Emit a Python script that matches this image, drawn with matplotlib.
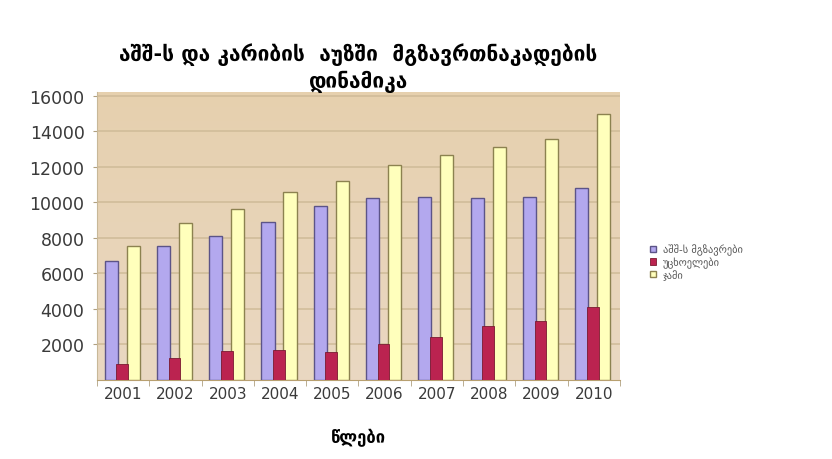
import matplotlib
matplotlib.use("Agg")
import matplotlib.pyplot as plt
import numpy as np

years = ["2001", "2002", "2003", "2004", "2005", "2006", "2007", "2008", "2009", "2010"]
usa = [6700, 7550, 8100, 8900, 9800, 10200, 10300, 10200, 10300, 10800]
foreign = [880, 1200, 1600, 1650, 1550, 2000, 2400, 3000, 3300, 4100]
total = [7550, 8800, 9600, 10550, 11200, 12100, 12650, 13100, 13550, 14950]
series_names = ["აშშ-ს მგზავრები", "უცხოელები", "ჯამი"]
title = "აშშ-ს და კარიბის  აუზში  მგზავრთნაკადების\nდინამიკა"
xlabel = "წლები"

plt.rcParams["font.family"] = ["DejaVu Sans"]

fig = plt.figure(figsize=(8.32, 4.6), dpi=100)
fig.patch.set_facecolor("white")

ax = fig.add_axes([0.1166, 0.1728, 0.6285, 0.625])
x = np.arange(len(years))
w = 0.25
ax.bar(x - 0.23, usa, w, color="#b3a8ee", edgecolor="#5c5488", linewidth=1.0, zorder=3,
       label=series_names[0])
ax.bar(x - 0.02, foreign, w * 0.9, color="#bb2350", edgecolor="#7a1a30", linewidth=0.6, zorder=4,
       label=series_names[1])
ax.bar(x + 0.19, total, w, color="#ffffbc", edgecolor="#8c8250", linewidth=1.0, zorder=3,
       label=series_names[2])

# beige gradient plot background
ax.imshow(np.outer(np.linspace(1, 0, 256), np.ones(10)), aspect="auto",
          extent=[-0.5, len(years) - 0.5, 0, 16200], zorder=0,
          cmap=matplotlib.colors.LinearSegmentedColormap.from_list(
              "pbg", ["#ead8c2", "#e6d0ae"]))

ax.set_xlim(-0.5, len(years) - 0.5)
ax.set_ylim(0, 16200)
ax.set_yticks(range(2000, 16001, 2000))
ax.set_yticklabels([str(v) for v in range(2000, 16001, 2000)], fontsize=12.5, color="#3a3a3a")
ax.set_xticks(x)
ax.set_xticklabels(years, fontsize=11, color="#3a3a3a")
ax.set_xticks(np.arange(-0.5, len(years)), minor=True)
ax.tick_params(axis="x", which="major", length=0, pad=5)
ax.tick_params(axis="x", which="minor", length=4, color="#b0a080")
ax.tick_params(axis="y", length=3, color="#b0a080", pad=6)
ax.grid(axis="y", color="#cfbb98", linewidth=1.1, zorder=1)
for s in ["top", "right"]:
    ax.spines[s].set_visible(False)
ax.spines["left"].set_color("#c8b898")
ax.spines["bottom"].set_color("#b8a070")

ax.set_title(title, fontsize=15, fontweight="bold", pad=2, linespacing=1.3)
ax.set_xlabel(xlabel, fontsize=12, fontweight="bold", labelpad=19)

leg = ax.legend(loc="center left", bbox_to_anchor=(1.04, 0.41), frameon=False,
                fontsize=7.5, handlelength=0.6, handleheight=0.6, handletextpad=0.6,
                labelspacing=0.1, labelcolor="#555555")

fig.savefig("out.png", dpi=100)
